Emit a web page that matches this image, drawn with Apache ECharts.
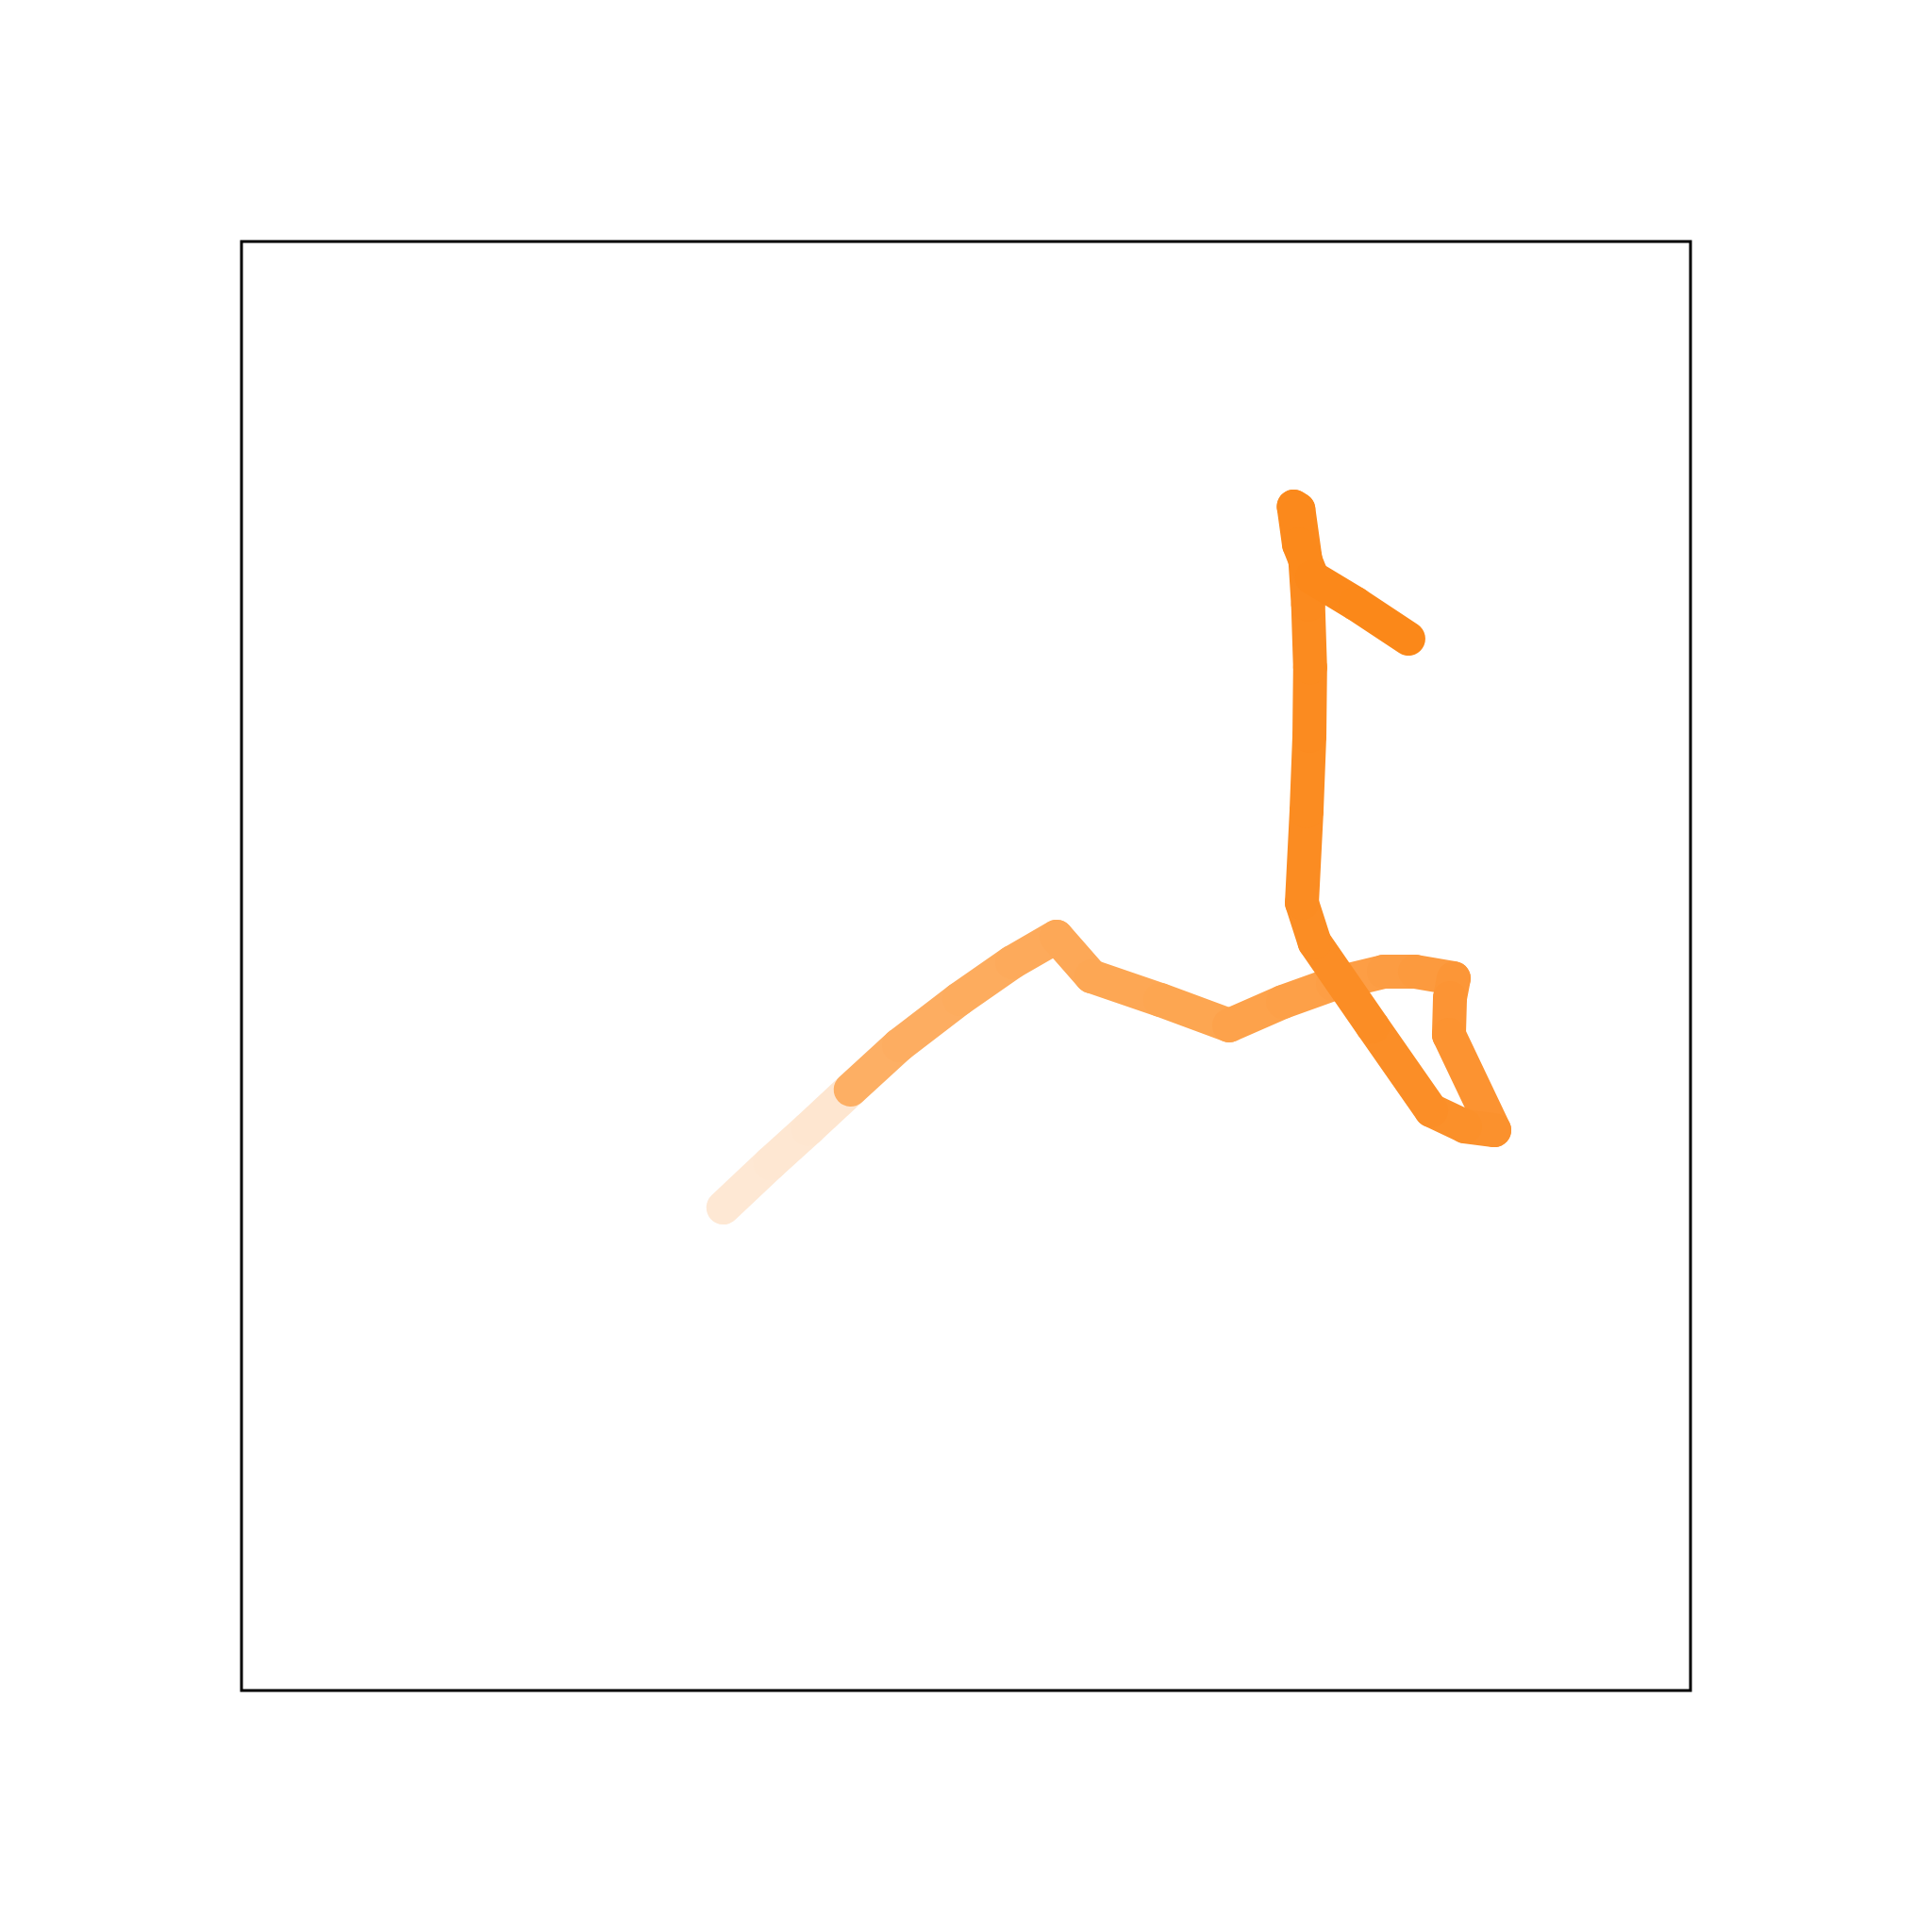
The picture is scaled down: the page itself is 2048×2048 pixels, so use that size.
<!DOCTYPE html>
<html>
<head>
<meta charset="utf-8">
<script src="https://cdn.jsdelivr.net/npm/echarts@6/dist/echarts.min.js"></script>
<style>html,body{margin:0;padding:0;background:#fff;}#c{width:2048px;height:2048px;}</style>
</head>
<body>
<div id="c"></div>
<script>
// Trajectory points (data units), in drawing order
var xs = [3.325, 3.650, 3.911, 4.204, 4.538, 4.954, 5.319, 5.625, 5.866, 6.341, 6.816, 7.188, 7.533, 7.884, 8.099, 8.366, 8.340, 8.333, 8.646, 8.444, 8.210, 7.806, 7.406, 7.318, 7.350, 7.370, 7.375, 7.361, 7.340, 7.294, 7.262, 7.298, 7.389, 7.689, 8.053];
var ys = [3.333, 3.639, 3.874, 4.147, 4.453, 4.772, 5.026, 5.202, 4.928, 4.766, 4.590, 4.753, 4.876, 4.961, 4.961, 4.915, 4.779, 4.525, 3.867, 3.893, 4.004, 4.583, 5.163, 5.436, 6.068, 6.589, 7.061, 7.495, 7.820, 8.151, 8.171, 7.910, 7.682, 7.500, 7.259];
// Colour of each segment (from point i to i+1)
var segColors = ['#FEE8D4', '#FEE7D2', '#FEE6D0',
  '#FDAF64', '#FDAD61', '#FDAC5E', '#FDAA5B', '#FDA857', '#FDA754', '#FDA651',
  '#FDA24B', '#FDA048', '#FD9E45', '#FC9C42', '#FC9A3E', '#FC9637', '#FC9434',
  '#FC9331', '#FB912D', '#FB902A', '#FB8E27', '#FB8D25', '#FB8D24', '#FB8C22',
  '#FB8C21', '#FB8B20', '#FB8B1F', '#FB8A1E', '#FB8A1D', '#FB891C', '#FB891C', '#FB891B', '#FB881A', '#FB8819'];

var series = [];
for (var i = 0; i < xs.length - 1; i++) {
  series.push({
    type: 'line',
    data: [[xs[i], ys[i]], [xs[i + 1], ys[i + 1]]],
    symbol: 'none',
    silent: true,
    z: 2 + i * 0.001,
    lineStyle: { color: segColors[i], width: 36, opacity: 1, cap: 'round', join: 'round' }
  });
}

var chart = echarts.init(document.getElementById('c'), null, { renderer: 'canvas' });
chart.setOption({
  animation: false,
  backgroundColor: '#ffffff',
  grid: { left: 256, top: 256, width: 1536, height: 1536, show: true, borderColor: '#000000', borderWidth: 3, backgroundColor: 'transparent' },
  xAxis: { type: 'value', min: 0, max: 10, show: false },
  yAxis: { type: 'value', min: 0, max: 10, show: false },
  series: series
});
</script>
</body>
</html>
